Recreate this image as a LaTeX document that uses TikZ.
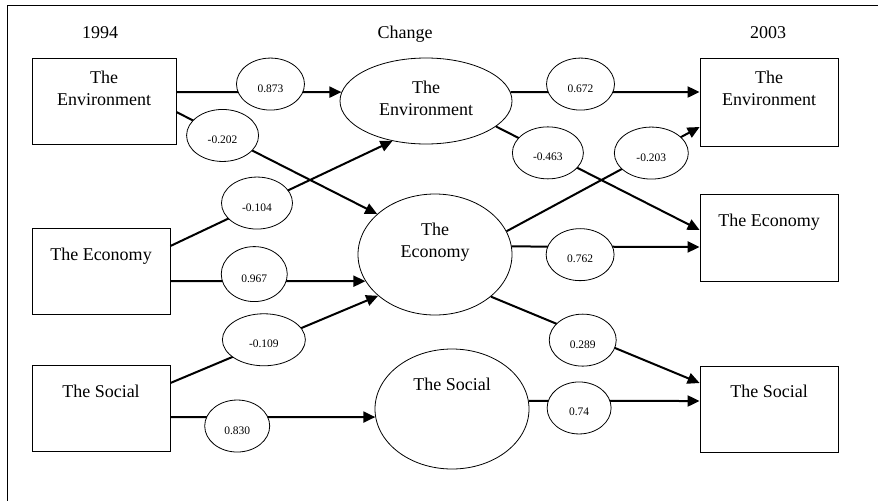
\documentclass[tikz,border=0pt]{standalone}
\usepackage{fontspec}
\setmainfont{Liberation Serif}
\usetikzlibrary{arrows.meta,shapes.geometric}

\begin{document}
\begin{tikzpicture}[x=1pt,y=-1pt]
	% Define node styles
	\tikzstyle{measure} = [rectangle, draw, line width=0.8pt, inner sep=0pt, minimum width=138pt, minimum height=86pt, align=center, font=\fontsize{18}{22}\selectfont];
	\tikzstyle{latent} = [ellipse, draw, line width=0.8pt, inner sep=0pt, minimum width=154pt, minimum height=120pt, align=center, font=\fontsize{18}{22}\selectfont];
	\tikzstyle{heading} = [anchor=base, font=\fontsize{18}{22}\selectfont];
	\tikzstyle{coef} = [ellipse, draw, fill=white, line width=0.8pt, inner sep=0pt, minimum width=68pt, minimum height=52pt, text height=16pt, text depth=0pt, font=\fontsize{11.5}{13}\selectfont];
	\tikzstyle{link} = [line width=2pt, -{Triangle[length=12pt,width=11pt]}];
	
	\useasboundingbox (0,0) rectangle (878,501);
	\draw[line width=0.8pt] (878,5) -- (7,5) -- (7,501);
	
	% Headings
	\node[heading] (h1994) at (100,38) {1994};
	\node[heading] (hchange) at (405,38) {Change};
	\node[heading] (h2003) at (768,38) {2003};
	
	% 1994 measures
	\node[measure, minimum width=144pt, text height=35pt, text depth=27pt] (env94) at (104,101) {The\\Environment};
	\node[measure, text height=13pt, text depth=36pt] (eco94) at (101,271.5) {The Economy};
	\node[measure, text height=13pt, text depth=36pt] (soc94) at (101,408.5) {The Social};
	
	% Change (latent)
	\node[latent, minimum width=172pt, minimum height=86pt, text height=35pt, text depth=7pt] (envchg) at (426,101) {The\\Environment};
	\node[latent, minimum height=121pt, text height=35pt, text depth=30pt] (ecochg) at (435,254.5) {The\\Economy};
	\node[latent, text height=13pt, text depth=51pt] (socchg) at (452,409) {The Social};
	
	% 2003 measures
	\node[measure, minimum height=88pt, text height=35pt, text depth=29pt] (env03) at (769,102) {The\\Environment};
	\node[measure, minimum height=87pt, text height=13pt, text depth=36pt] (eco03) at (769,237.5) {The Economy};
	\node[measure, text height=13pt, text depth=37pt] (soc03) at (769,409) {The Social};
	
	% Paths 1994 -> change
	\draw[link] ([yshift=9pt]env94.east) -- node[coef, pos=.57, yshift=8pt] {0.873} (envchg.174);
	\draw[link] ([yshift=-11pt]env94.east) -- node[coef, pos=.23, minimum width=72pt] {-0.202} (ecochg.145);
	\draw[link] ([yshift=25.5pt]eco94.east) -- node[coef, pos=.39, yshift=2pt, minimum width=71pt] {-0.104} (envchg.230);
	\draw[link] ([yshift=-9.5pt]eco94.east) -- node[coef, pos=.43, yshift=7pt, minimum width=66pt, minimum height=55pt] {0.967} (ecochg.201);
	\draw[link] ([yshift=25.5pt]soc94.east) -- node[coef, pos=.45, yshift=4pt, minimum width=83pt] {-0.109} (ecochg.216);
	\draw[link] ([yshift=-8.5pt]soc94.east) -- node[coef, pos=.326, yshift=-9pt, minimum width=65pt] {0.830} (socchg.186);
	
	% Paths change -> 2003
	\draw[link] (envchg.6) -- node[coef, pos=.37, yshift=8pt] {0.672} ([yshift=10pt]env03.west);
	\draw[link] (envchg.340) -- node[coef, pos=.255, minimum width=71pt] {-0.463} ([yshift=7.5pt]eco03.west);
	\draw[link] (ecochg.18) -- node[coef, pos=.75, minimum width=74pt] {-0.203} ([yshift=-25pt]env03.west);
	\draw[link] (ecochg.6) -- node[coef, pos=.364, yshift=-8pt] {0.762} ([yshift=-9.5pt]eco03.west);
	\draw[link] (ecochg.323) -- node[coef, pos=.44, yshift=-5.5pt, minimum width=67pt] {0.289} ([yshift=26pt]soc03.west);
	\draw[link] (socchg.6) -- node[coef, pos=.295, yshift=-7pt, minimum width=64pt] {0.74} ([yshift=8pt]soc03.west);
\end{tikzpicture}
\end{document}
